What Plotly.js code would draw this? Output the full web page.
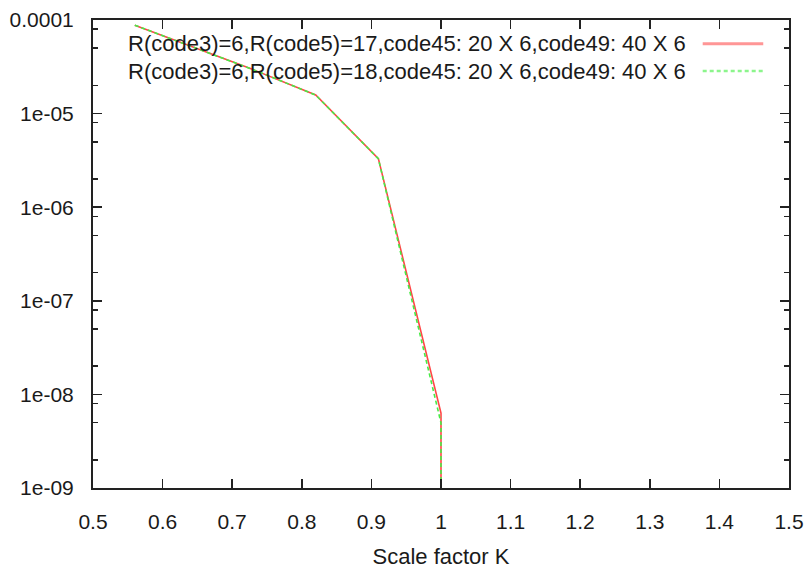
<!DOCTYPE html>
<html>
<head>
<meta charset="utf-8">
<script src="https://cdn.plot.ly/plotly-3.0.1.min.js"></script>
<style>
  html, body { margin: 0; padding: 0; background: #fff; }
  #chart { width: 811px; height: 569px; }
</style>
</head>
<body>
<div id="chart"></div>
<script>
// Scale factor K on the x axis
const kValues = [0.56, 0.73, 0.82, 0.91, 1.0, 1.0];
// Error curves for the two code configurations
const seriesR17 = [8.8e-5, 2.95e-5, 1.58e-5, 3.3e-6, 6.3e-9, 1e-10];
const seriesR18 = [8.8e-5, 2.95e-5, 1.58e-5, 3.3e-6, 4.95e-9, 1e-10];
const seriesLabels = [
  'R(code3)=6,R(code5)=17,code45: 20 X 6,code49: 40 X 6',
  'R(code3)=6,R(code5)=18,code45: 20 X 6,code49: 40 X 6'
];
// Axis ticks
const xTickVals = [0.5, 0.6, 0.7, 0.8, 0.9, 1.0, 1.1, 1.2, 1.3, 1.4, 1.5];
const xTickText = ['0.5', '0.6', '0.7', '0.8', '0.9', '1', '1.1', '1.2', '1.3', '1.4', '1.5'];
const yTickVals = [1e-9, 1e-8, 1e-7, 1e-6, 1e-5, 1e-4];
const yTickText = ['1e-09', '1e-08', '1e-07', '1e-06', '1e-05', '0.0001'];
const yMinorMantissas = [2, 5, 8];

const FONT = '"Liberation Sans", Arial, sans-serif';
const INK = '#1a1a1a';
const colors = ['rgb(255,70,70)', 'rgb(70,235,70)'];
const dashes = ['solid', '4px,3px'];

const yMinorVals = [];
for (let e = -9; e < -4; e++) {
  yMinorMantissas.forEach(m => yMinorVals.push(m * Math.pow(10, e)));
}

const traces = [seriesR17, seriesR18].map((ys, i) => ({
  x: kValues,
  y: ys,
  type: 'scatter',
  mode: 'lines',
  name: seriesLabels[i],
  line: { color: colors[i], width: 1.6, dash: dashes[i] },
  showlegend: false,
  hoverinfo: 'skip'
}));

// Key: text right-aligned with a line sample on its right
const keyTextX = 0.855;
const keyRowsY = [0.949, 0.891];
const annotations = seriesLabels.map((t, i) => ({
  xref: 'paper', yref: 'paper',
  x: keyTextX, y: keyRowsY[i],
  xanchor: 'right', yanchor: 'middle',
  text: t, showarrow: false,
  font: { family: FONT, size: 22, color: INK }
}));
const shapes = seriesLabels.map((t, i) => ({
  type: 'line', xref: 'paper', yref: 'paper',
  x0: 0.876, x1: 0.963, y0: keyRowsY[i], y1: keyRowsY[i],
  line: { color: i === 0 ? 'rgb(255,150,150)' : 'rgb(140,245,140)', width: i === 0 ? 3 : 2.5, dash: dashes[i] }
}));

const layout = {
  width: 811, height: 569,
  margin: { l: 93, r: 22, t: 20, b: 81 },
  paper_bgcolor: '#fff', plot_bgcolor: '#fff',
  font: { family: FONT, size: 21, color: INK },
  showlegend: false,
  xaxis: {
    range: [0.5, 1.5],
    tickmode: 'array', tickvals: xTickVals, ticktext: xTickText,
    ticks: 'inside', ticklen: 9, tickwidth: 1.5, tickcolor: '#222',
    showline: true, linecolor: '#222', linewidth: 2, mirror: 'allticks',
    showgrid: false, zeroline: false,
    ticklabelstandoff: 14,
    tickfont: { family: FONT, size: 21, color: INK },
    title: { text: 'Scale factor K', font: { family: FONT, size: 22, color: INK }, standoff: 18 }
  },
  yaxis: {
    type: 'log', range: [-9, -4],
    tickmode: 'array', tickvals: yTickVals, ticktext: yTickText,
    ticks: 'inside', ticklen: 9, tickwidth: 1.5, tickcolor: '#222',
    minor: { tickmode: 'array', tickvals: yMinorVals, ticks: 'inside', ticklen: 5, tickwidth: 1.5, tickcolor: '#222', showgrid: false },
    showline: true, linecolor: '#222', linewidth: 2, mirror: 'allticks',
    showgrid: false, zeroline: false,
    ticklabelstandoff: 13,
    tickfont: { family: FONT, size: 21, color: INK }
  },
  annotations: annotations,
  shapes: shapes
};

Plotly.newPlot('chart', traces, layout, { staticPlot: true, displayModeBar: false });
</script>
</body>
</html>
